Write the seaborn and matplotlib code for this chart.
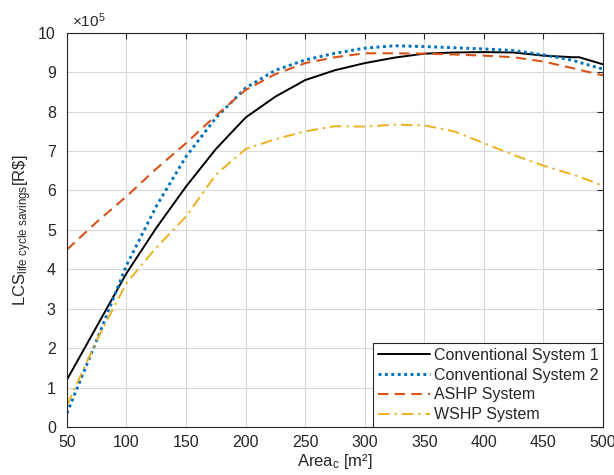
import numpy as np
import pandas as pd
import seaborn as sns
import matplotlib
matplotlib.use('Agg')
import matplotlib.pyplot as plt

# dados (x 10^5 R$)
area = [50, 75, 100, 125, 150, 175, 200, 225, 250, 275, 300, 325, 350, 375, 400, 425, 450, 475, 480, 500]
conv1 = [1.2, 2.55, 3.9, 5.05, 6.1, 7.05, 7.85, 8.38, 8.8, 9.05, 9.23, 9.37, 9.47, 9.5, 9.51, 9.5, 9.42, 9.38, 9.38, 9.2]
conv2 = [0.35, 2.2, 4.1, 5.6, 6.86, 7.84, 8.6, 9.05, 9.31, 9.48, 9.61, 9.67, 9.65, 9.62, 9.59, 9.55, 9.44, 9.3, 9.25, 9.08]
ashp = [4.5, 5.2, 5.85, 6.55, 7.2, 7.9, 8.55, 8.95, 9.23, 9.38, 9.48, 9.48, 9.47, 9.45, 9.42, 9.38, 9.27, 9.1, 9.06, 8.92]
wshp = [0.55, 2.2, 3.65, 4.55, 5.34, 6.4, 7.05, 7.3, 7.5, 7.63, 7.62, 7.67, 7.65, 7.5, 7.2, 6.9, 6.63, 6.4, 6.35, 6.12]

nomes = ['Conventional System 1', 'Conventional System 2', 'ASHP System', 'WSHP System']
cores = ['black', '#0072BD', '#D95319', '#EDB120']

sns.set_style('white')
plt.rcParams['font.family'] = ['Liberation Sans', 'DejaVu Sans']
plt.rcParams['mathtext.fontset'] = 'custom'
plt.rcParams['mathtext.rm'] = 'Liberation Sans'
plt.rcParams['mathtext.it'] = 'Liberation Sans'

fig = plt.figure(figsize=(6.14, 4.75), dpi=100)
ax = fig.add_axes([0.109, 0.101, 0.873, 0.830])

estilos = [dict(linestyle='-', linewidth=1.4),
           dict(linestyle=(0, (1, 1.2)), linewidth=2.1),
           dict(linestyle=(0, (5, 3)), linewidth=1.5),
           dict(linestyle=(0, (6, 2.5, 1.2, 2.5)), linewidth=1.4)]

for y, nome, cor, st in zip([conv1, conv2, ashp, wshp], nomes, cores, estilos):
    df = pd.DataFrame({'area': area, 'lcs': y})
    sns.lineplot(data=df, x='area', y='lcs', ax=ax, color=cor, label=nome, **st)

ax.set_xlim(50, 500)
ax.set_ylim(0, 10)
ax.set_xticks(np.arange(50, 501, 50))
ax.set_yticks(np.arange(0, 11, 1))
ax.grid(True, color='#d9d9d9', linewidth=0.8)
ax.tick_params(direction='in', length=4, colors='#262626', labelsize=11.5, top=True, right=True)
ax.tick_params(axis='y', pad=8)
ax.tick_params(axis='x', pad=6)
for s in ax.spines.values():
    s.set_color('#262626')
    s.set_linewidth(0.8)

ax.set_xlabel(r'Area$_{c}$ [m²]', fontsize=12, color='#262626', labelpad=1)
ax.set_ylabel(r'LCS$_{\mathregular{life\ cycle\ savings}}$[R\$]', fontsize=12, color='#262626', labelpad=3)
ax.text(0.01, 1.008, r'$\times10^{5}$', transform=ax.transAxes, fontsize=11, color='#262626', va='bottom', ha='left')

leg = ax.legend(loc='lower right', borderaxespad=0, fancybox=False, framealpha=1,
                edgecolor='#262626', fontsize=11.5, handlelength=3.3, handletextpad=0.2,
                labelspacing=0.3, borderpad=0.3)
leg.get_frame().set_linewidth(0.8)

fig.savefig('out.png', dpi=100)
